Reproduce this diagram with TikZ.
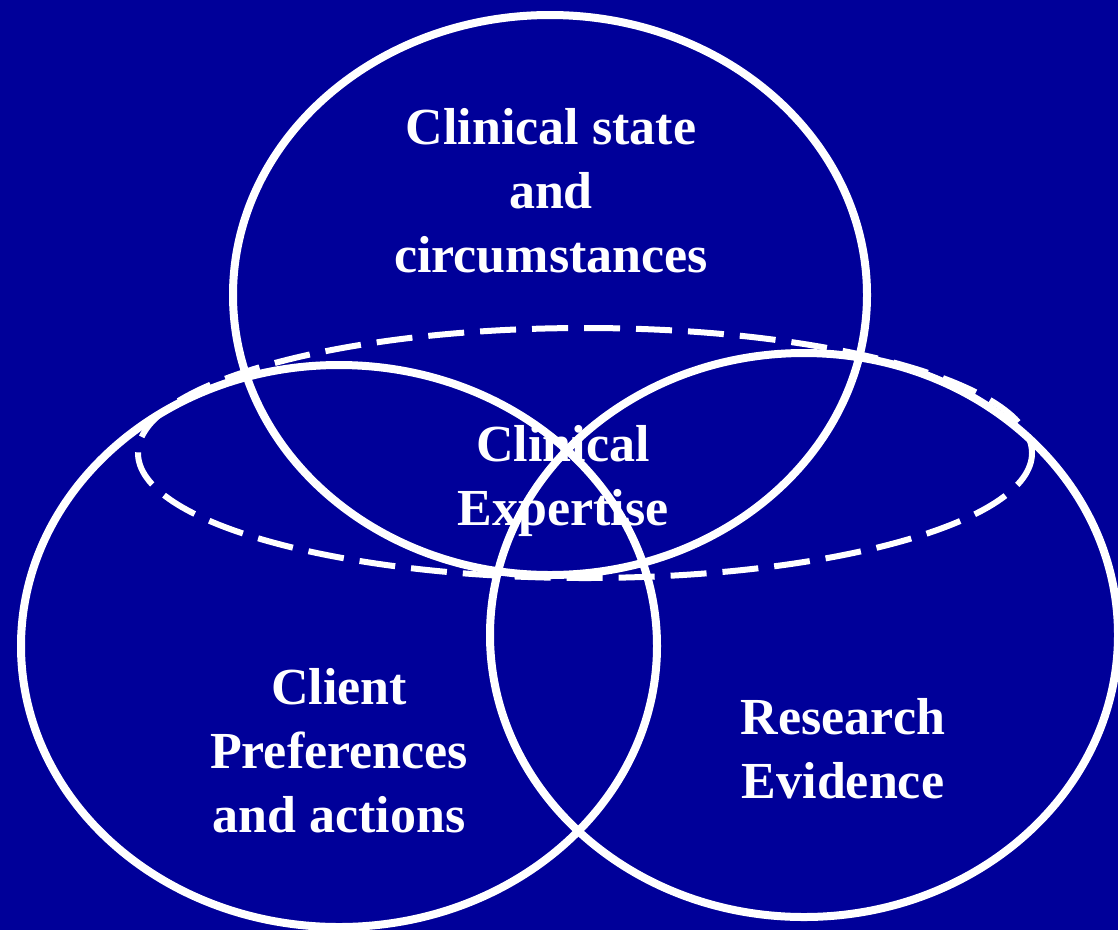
\documentclass[tikz,border=0pt]{standalone}
\usepackage{fontspec}
\setmainfont{Liberation Serif}
\definecolor{navy}{RGB}{0,0,153}
\begin{document}
\begin{tikzpicture}[x=1pt,y=-1pt,
  label/.style={text=white, align=center, anchor=base,
    font=\fontsize{52}{64}\selectfont\bfseries, inner sep=0pt},
  ring/.style={draw=white, line width=8pt},
  dashring/.style={draw=white, line width=6pt, dash pattern=on 36pt off 16pt}]
  \fill[navy] (0,0) rectangle (1118,930);
  \useasboundingbox (0,0) rectangle (1118,930);
  % labels (anchored on the baseline of their last line)
  \node[label] (state) at (551,272) {Clinical state\\and\\circumstances};
  \node[label] (expert) at (563,525) {Clinical\\Expertise};
  \node[label] (client) at (339,832) {Client\\Preferences\\and actions};
  \node[label] (research) at (843,798) {Research\\Evidence};
  % circles of the model
  \draw[dashring] (585,453) ellipse [x radius=447, y radius=125];
  \draw[ring] (550,295) ellipse [x radius=317, y radius=280];
  \draw[ring] (339,646) ellipse [x radius=318, y radius=281];
  \draw[ring] (804,635) ellipse [x radius=314, y radius=282];
\end{tikzpicture}
\end{document}
